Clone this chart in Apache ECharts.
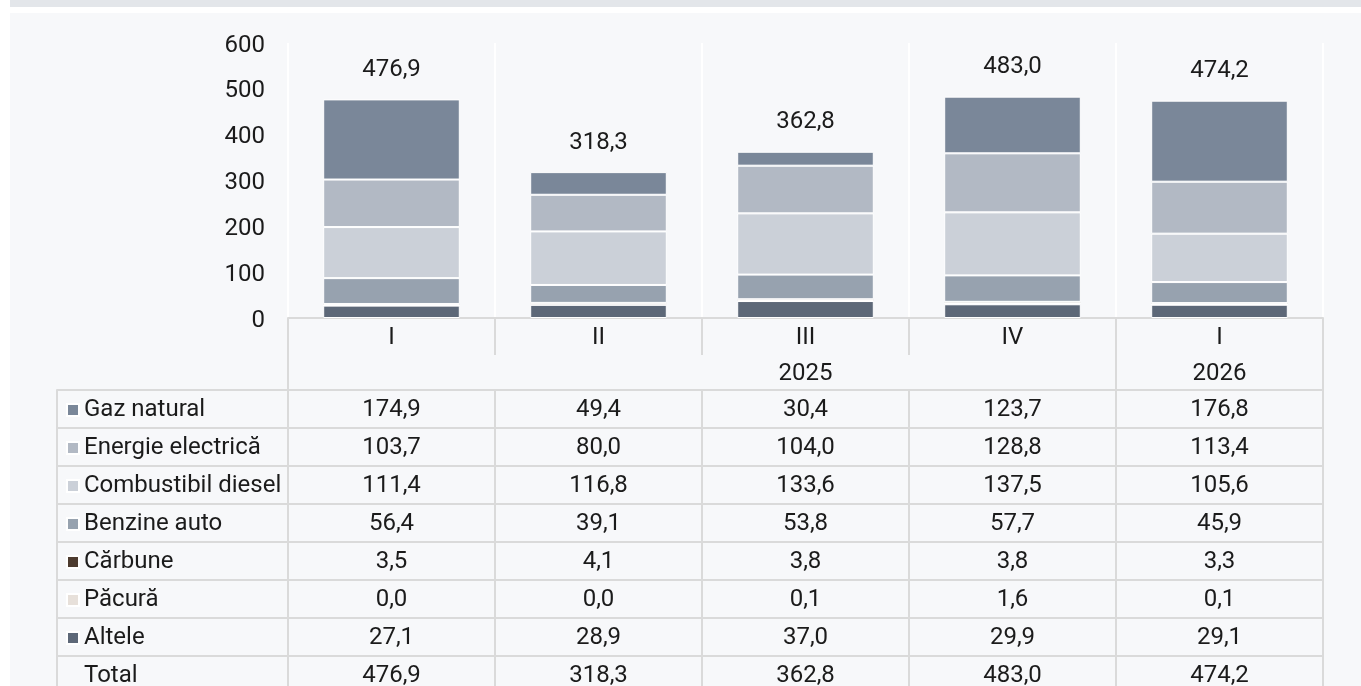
<!DOCTYPE html>
<html>
<head>
<meta charset="utf-8">
<script src="https://cdn.jsdelivr.net/npm/echarts@6/dist/echarts.min.js"></script>
<style>
  html, body { margin: 0; padding: 0; background: #fff; }
  .band { position: absolute; left: 10px; top: 0; width: 1351px; height: 7px; background: #e3e6ea; }
  .panel { position: absolute; left: 10px; top: 13px; width: 1351px; height: 673px; background: #f7f8fa; }
  .box { position: absolute; left: 0; top: 0; width: 1361px; height: 686px; }
</style>
</head>
<body>
<div class="band"></div>
<div class="panel"></div>
<div class="box" id="box"></div>
<script>
// date
const quarters = ['I', 'II', 'III', 'IV', 'I'];
const years = ['', '', '2025', '', '2026'];
const gazNatural = [174.9, 49.4, 30.4, 123.7, 176.8];
const energieElectrica = [103.7, 80.0, 104.0, 128.8, 113.4];
const combustibilDiesel = [111.4, 116.8, 133.6, 137.5, 105.6];
const benzineAuto = [56.4, 39.1, 53.8, 57.7, 45.9];
const carbune = [3.5, 4.1, 3.8, 3.8, 3.3];
const pacura = [0.0, 0.0, 0.1, 1.6, 0.1];
const altele = [27.1, 28.9, 37.0, 29.9, 29.1];
const total = [476.9, 318.3, 362.8, 483.0, 474.2];
const yTicks = [0, 100, 200, 300, 400, 500, 600];

const font = 'Roboto';
const fs = 24;
const txt = '#1b1b1b';
const lineCol = '#dadada';
const fmt = v => Number(v).toFixed(1).replace('.', ',');

// serii, de jos in sus
const series = [
  { name: 'Altele', data: altele, color: '#5d6878' },
  { name: 'Păcură', data: pacura, color: '#e7e0da' },
  { name: 'Cărbune', data: carbune, color: '#4d3b2f' },
  { name: 'Benzine auto', data: benzineAuto, color: '#97a2af' },
  { name: 'Combustibil diesel', data: combustibilDiesel, color: '#cbd0d8' },
  { name: 'Energie electrică', data: energieElectrica, color: '#b2b9c4' },
  { name: 'Gaz natural', data: gazNatural, color: '#7a8799' }
];
// randuri tabel (de sus in jos)
const rows = [gazNatural, energieElectrica, combustibilDiesel, benzineAuto, carbune, pacura, altele, total];

let myecharts = echarts.init(document.getElementById('box'));

let xAxes = [
  {
    type: 'category', gridIndex: 0, data: quarters, position: 'bottom',
    axisLine: { show: true, onZero: false, lineStyle: { color: lineCol, width: 2 } },
    axisTick: { show: true, interval: 0, length: 37, lineStyle: { color: lineCol, width: 2 } },
    axisLabel: { interval: 0, margin: 7.5, fontSize: fs, color: txt, fontFamily: font },
    splitLine: { show: true, interval: 0, lineStyle: { color: '#ffffff', width: 2 } }
  },
  {
    type: 'category', gridIndex: 0, data: years, position: 'bottom', offset: 37,
    axisLine: { show: false, onZero: false },
    axisTick: { show: true, interval: (i) => i === 0 || i === 4, length: 35, lineStyle: { color: lineCol, width: 2 } },
    axisLabel: { interval: 0, margin: 6.5, fontSize: fs, color: txt, fontFamily: font }
  }
];
rows.forEach((r, k) => {
  xAxes.push({
    type: 'category', gridIndex: 0, data: quarters, position: 'bottom', offset: 72 + 38 * k,
    axisLine: { show: true, onZero: false, lineStyle: { color: lineCol, width: 2 } },
    axisTick: { show: true, interval: 0, length: 38, lineStyle: { color: lineCol, width: 2 } },
    axisLabel: { interval: 0, margin: 7.5, fontSize: fs, color: txt, fontFamily: font,
      formatter: (v, i) => fmt(r[i]) }
  });
  // coloana cu denumiri
  xAxes.push({
    type: 'category', gridIndex: 1, data: [''], position: 'bottom', offset: 72 + 38 * k,
    axisLine: { show: true, onZero: false, lineStyle: { color: lineCol, width: 2 } },
    axisTick: { show: true, interval: 0, length: 38, lineStyle: { color: lineCol, width: 2 } },
    axisLabel: { show: false }
  });
});

let options = {
  animation: false,
  textStyle: { fontFamily: font },
  grid: [
    { left: 288, right: 38, top: 43, bottom: 368, outerBoundsMode: 'none' },
    { left: 57, width: 231, top: 43, bottom: 368, outerBoundsMode: 'none' }
  ],
  legend: {
    orient: 'vertical',
    left: 66,
    top: 398,
    height: 600,
    padding: 0,
    itemWidth: 12,
    itemHeight: 12,
    itemGap: 14,
    selectedMode: false,
    textStyle: { fontSize: fs, color: txt, fontFamily: font },
    data: [
      { name: 'Gaz natural', icon: 'rect' },
      { name: 'Energie electrică', icon: 'rect' },
      { name: 'Combustibil diesel', icon: 'rect' },
      { name: 'Benzine auto', icon: 'rect' },
      { name: 'Cărbune', icon: 'rect' },
      { name: 'Păcură', icon: 'rect' },
      { name: 'Altele', icon: 'rect' },
      { name: 'Total', icon: 'rect', itemStyle: { color: 'rgba(0,0,0,0)', borderWidth: 0 } }
    ]
  },
  xAxis: xAxes,
  yAxis: [
    {
      type: 'value', gridIndex: 0, min: yTicks[0], max: yTicks[yTicks.length - 1], interval: 100,
      axisLine: { show: false }, axisTick: { show: false },
      splitLine: { show: false },
      axisLabel: {
        margin: 23, fontSize: fs, color: txt, fontFamily: font,
        formatter: v => '{a|' + v + '}',
        rich: { a: { fontSize: fs, color: txt, fontFamily: font, padding: [5, 0, 0, 0] } }
      }
    },
    { type: 'value', gridIndex: 1, min: 0, max: 1, show: false }
  ],
  series: series.map(s => ({
    name: s.name,
    type: 'bar',
    stack: 'total',
    xAxisIndex: 0,
    yAxisIndex: 0,
    barWidth: '66%',
    data: s.data,
    itemStyle: { color: s.color, borderColor: '#ffffff', borderWidth: 1 }
  })).concat([{
    name: 'Total',
    type: 'line',
    xAxisIndex: 0,
    yAxisIndex: 0,
    data: total,
    symbol: 'circle',
    symbolSize: 1,
    itemStyle: { color: 'rgba(0,0,0,0)' },
    lineStyle: { opacity: 0 },
    label: {
      show: true, position: 'top', distance: 17,
      fontSize: fs, color: txt, fontFamily: font,
      formatter: p => fmt(p.value)
    }
  }])
};
myecharts.setOption(options);
window.onresize = function () {
  myecharts.resize();
};
</script>
</body>
</html>
